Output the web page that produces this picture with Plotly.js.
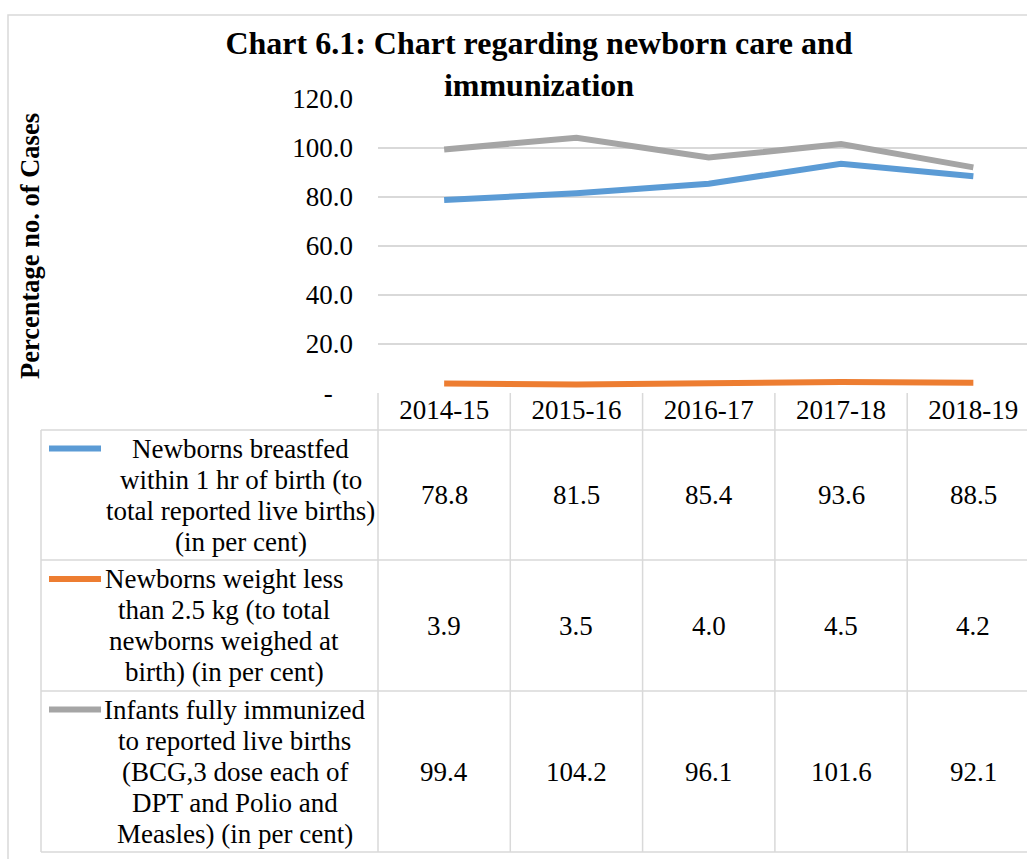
<!DOCTYPE html>
<html>
<head>
<meta charset="utf-8">
<script src="https://cdn.plot.ly/plotly-3.0.1.min.js"></script>
<style>html,body{margin:0;padding:0;background:#fff;overflow:hidden;}#chart{width:1027px;height:859px;}</style>
</head>
<body>
<div id="chart"></div>
<script>
// ---- data ----
const categories = ['2014-15', '2015-16', '2016-17', '2017-18', '2018-19'];
const breastfed = [78.8, 81.5, 85.4, 93.6, 88.5];
const lowWeight = [3.9, 3.5, 4.0, 4.5, 4.2];
const immunized = [99.4, 104.2, 96.1, 101.6, 92.1];
const seriesNames = [
  'Newborns breastfed<br>within 1 hr of birth (to<br>total reported live births)<br>(in per cent)',
  'Newborns weight less<br>than 2.5 kg (to total<br>newborns weighed at<br>birth) (in per cent)',
  'Infants fully immunized<br>to reported live births<br>(BCG,3 dose each of<br>DPT and Polio and<br>Measles) (in per cent)'
];
const seriesColors = ['#5b9bd5', '#ed7d31', '#a5a5a5'];
const yTickVals = [0, 20, 40, 60, 80, 100, 120];
const yTickText = yTickVals.map(v => v === 0 ? '-\u00a0\u00a0\u00a0' : v.toFixed(1));
const titleText = 'Chart 6.1: Chart regarding newborn care and<br>immunization';
const yTitleText = 'Percentage no. of Cases';

// ---- layout geometry (pixels) ----
const W = 1027, H = 859;
const M = {l: 378, r: 0, t: 99, b: 466};
const plotW = W - M.l - M.r, plotH = H - M.t - M.b;
const px = x => (x - M.l) / plotW;          // page x -> paper x
const py = y => (H - M.b - y) / plotH;      // page y -> paper y
const FONT = 'Liberation Serif, Times New Roman, serif';
const GRID = '#d9d9d9';
const FS = 27;
const LINE_H = 31;

// table rows (page y)
const headerTop = 393, headerBot = 430;
const rowBounds = [430, 560, 691, 852];
const legendLeft = 41;
const textCenters = [240.5, 224, 234.5];

const allSeries = [breastfed, lowWeight, immunized];

const traces = allSeries.map((vals, i) => ({
  type: 'scatter', mode: 'lines',
  x: categories, y: vals,
  name: seriesNames[i].replace(/<br>/g, ' '),
  line: {color: seriesColors[i], width: 6},
  hoverinfo: 'x+y'
}));

const shapes = [];
const annotations = [];
const lineStyle = {color: GRID, width: 1.5};

// outer chart border
shapes.push({type: 'rect', xref: 'paper', yref: 'paper',
  x0: px(8), x1: px(1200), y0: py(15), y1: py(1100), line: {color: GRID, width: 1.5}});

// horizontal table lines
rowBounds.forEach(y => shapes.push({type: 'line', xref: 'paper', yref: 'paper', x0: px(legendLeft), x1: px(1200), y0: py(y), y1: py(y), line: lineStyle}));
// vertical table lines
shapes.push({type: 'line', xref: 'paper', yref: 'paper', x0: px(legendLeft), x1: px(legendLeft), y0: py(headerBot), y1: py(rowBounds[3]), line: lineStyle});
shapes.push({type: 'line', xref: 'x domain', yref: 'paper', x0: 0, x1: 0, y0: py(headerTop), y1: py(rowBounds[3]), line: lineStyle});
categories.slice(1).forEach((c, i) => shapes.push({type: 'line', xref: 'x', yref: 'paper', x0: i + 0.5, x1: i + 0.5, y0: py(headerTop), y1: py(rowBounds[3]), line: lineStyle}));

// legend cells + values
allSeries.forEach((vals, r) => {
  const top = rowBounds[r], bot = rowBounds[r + 1], mid = (top + bot) / 2;
  const lines = seriesNames[r].split('<br>');
  const firstLineY = mid - (lines.length - 1) * LINE_H / 2;
  shapes.push({type: 'line', xref: 'paper', yref: 'paper', x0: px(49), x1: px(101), y0: py(firstLineY), y1: py(firstLineY),
    line: {color: seriesColors[r], width: 6}});
  lines.forEach((ln, k) => annotations.push({xref: 'paper', yref: 'paper', x: px(textCenters[r]), y: py(firstLineY + k * LINE_H),
    xanchor: 'center', yanchor: 'middle', text: ln, showarrow: false, font: {family: FONT, size: FS, color: '#000'}}));
  vals.forEach((v, i) => annotations.push({xref: 'x', yref: 'paper', x: categories[i], y: py(mid), xanchor: 'center', yanchor: 'middle',
    text: v.toFixed(1), showarrow: false, font: {family: FONT, size: FS, color: '#000'}}));
});

const layout = {
  width: W, height: H,
  margin: M,
  paper_bgcolor: '#fff', plot_bgcolor: '#fff',
  showlegend: false,
  font: {family: FONT, size: FS, color: '#000'},
  title: {text: titleText, font: {family: FONT, size: 32, color: '#000', weight: 'bold'},
    x: 539 / W, xanchor: 'center', xref: 'container', y: 1 - 54 / H, yanchor: 'top', yref: 'container'},
  xaxis: {type: 'category', range: [-0.5, plotW / 132.3 - 0.5],
    showgrid: false, zeroline: false, showline: false,
    ticks: '', ticklabelstandoff: -2, tickfont: {family: FONT, size: FS, color: '#000'}, fixedrange: true},
  yaxis: {range: [0, 120], tickvals: yTickVals, ticktext: yTickText, showgrid: true, gridcolor: GRID, gridwidth: 1.5,
    zeroline: false, showline: false, ticks: '', ticklabelstandoff: 24,
    tickfont: {family: FONT, size: FS, color: '#000'},
    title: {text: yTitleText, font: {family: FONT, size: 26.5, color: '#000', weight: 'bold'}, standoff: 244}, fixedrange: true},
  shapes: shapes,
  annotations: annotations
};

Plotly.newPlot('chart', traces, layout, {displayModeBar: false, staticPlot: true});
</script>
</body>
</html>
